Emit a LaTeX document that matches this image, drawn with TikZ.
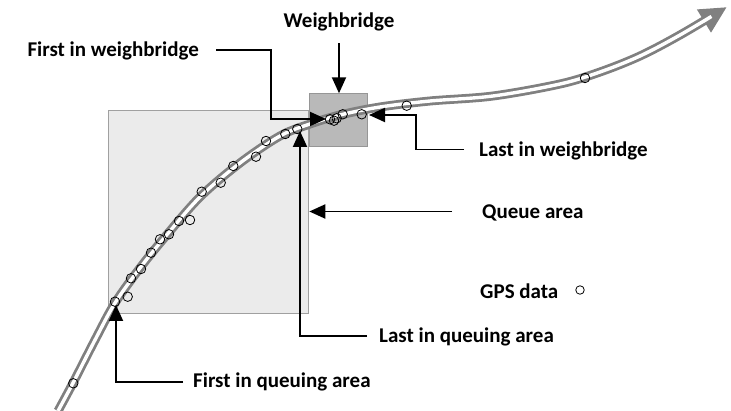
\documentclass[tikz,border=0pt]{standalone}
\usepackage{fontspec}
\setmainfont{Carlito}
\usetikzlibrary{arrows.meta}
\definecolor{qfill}{RGB}{235,235,235}
\definecolor{qdraw}{RGB}{160,160,160}
\definecolor{wfill}{RGB}{185,185,185}
\definecolor{wdraw}{RGB}{150,150,150}
\definecolor{road}{RGB}{128,128,128}
\begin{document}
\begin{tikzpicture}[x=1pt,y=-1pt,
  lbl/.style={font=\bfseries\fontsize{21}{24}\selectfont, inner sep=0pt, text height=14pt, text depth=4pt},
  ptr/.style={line width=1.9pt, -{Triangle[length=16pt,width=14pt]}},
  gps/.style={draw, line width=0.8pt, circle, minimum size=9.5pt, inner sep=0pt},
  area/.style={draw=qdraw, fill=qfill, line width=1pt, inner sep=0pt, anchor=north west}]
\useasboundingbox (0,0) rectangle (731,411);

% areas
\node[area, minimum width=200pt, minimum height=203pt] (queue) at (108.3,110) {};
\node[area, draw=wdraw, fill=wfill, minimum width=58pt, minimum height=52.4pt] (wbbox) at (309.3,93.3) {};

% road
\def\roadpath{plot[smooth, tension=0.55] coordinates {(58,411) (73,383) (95,340) (115,303) (140,268) (165,237) (200,197) (240,163) (280,136) (310,124) (340,115) (380,107) (430,101) (493,96) (560,84) (600,72) (640,56) (680,35) (727,7)}}
\draw[road, line width=9pt, -{Triangle[length=27pt,width=25pt]}] \roadpath;
\draw[white, line width=3.4pt, shorten >=28pt] \roadpath;

% GPS points
\foreach \p [count=\i] in {(73.3,383.3),(115,301.7),(127.7,296.7),(131,278.3),(141,269),(151,252.7),(160,239.3),(169,234.3),(179,221),(190,220),(201.7,191.7),(220.7,182.7),(233.3,166),(256,156.7),(266,141),(285.3,134),(297.3,129),(330,119.3),(334,120.7),(336.7,118.3),(342.7,114.3),(361.7,114.3),(406.7,105.7),(585,78)}
  \node[gps] (g\i) at \p {};

% labels
\node[lbl, anchor=base] (wbl) at (339,28) {Weighbridge};
\node[lbl, anchor=base east] (fiw) at (199,57) {First in weighbridge};
\node[lbl, anchor=base west] (liw) at (479,157) {Last in weighbridge};
\node[lbl, anchor=base west] (qa) at (482,219) {Queue area};
\node[lbl, anchor=base west] (gpsl) at (480,299) {GPS data};
\node[lbl, anchor=base west] (lqa) at (379,343) {Last in queuing area};
\node[lbl, anchor=base west] (fqa) at (193,387.7) {First in queuing area};
\node[gps, minimum size=8.5pt] (gpsm) at (580,290) {};

% target points
\coordinate (fiwT) at (326,119);
\coordinate (liwT) at (369,115);
\coordinate (lqaT) at (300,131);
\coordinate (fqaT) at (116,305);

% pointers
\draw[ptr] ([yshift=-11pt]wbl.south) -- (wbbox.north -| wbl.south);
\draw[ptr] ([xshift=17pt,yshift=2pt]fiw.east) -- ++(55,0) |- (fiwT);
\draw[ptr] ([xshift=-15pt,yshift=2.5pt]liw.west) -- ++(-48,0) |- (liwT);
\draw[ptr] ([xshift=-30pt,yshift=2.5pt]qa.west) -- ([yshift=2.5pt]qa.west -| queue.east);
\draw[ptr] ([xshift=-12pt,yshift=2pt]lqa.west) -| (lqaT);
\draw[ptr] ([xshift=-10pt,yshift=1pt]fqa.west) -| (fqaT);
\end{tikzpicture}
\end{document}
